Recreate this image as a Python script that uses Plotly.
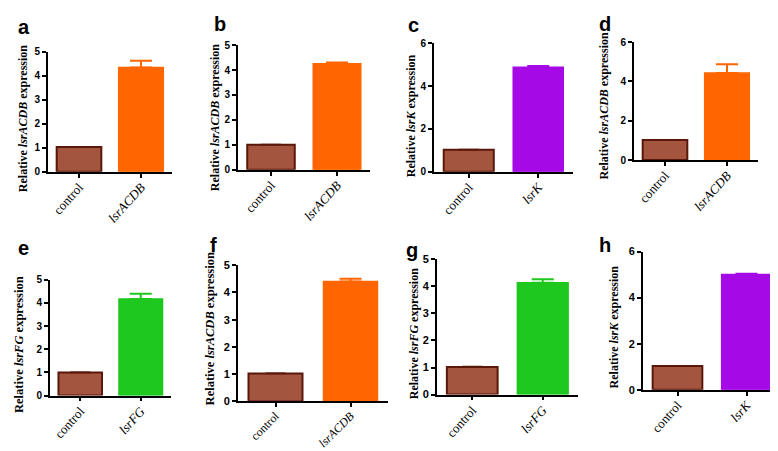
import plotly.graph_objects as go

W, H = 778, 451

# ---- data ----
panel_letters = ["a", "b", "c", "d", "e", "f", "g", "h"]
genes = ["lsrACDB", "lsrACDB", "lsrK", "lsrACDB", "lsrFG", "lsrACDB", "lsrFG", "lsrK"]
control_values = [1.03, 1.00, 1.03, 1.02, 1.00, 1.02, 1.02, 1.03]
control_errors = [0.01, 0.01, 0.01, 0.01, 0.01, 0.01, 0.02, 0.01]
gene_values = [4.35, 4.25, 4.88, 4.43, 4.17, 4.40, 4.13, 5.00]
gene_errors = [0.28, 0.05, 0.05, 0.45, 0.23, 0.10, 0.13, 0.03]
y_max = [5, 5, 6, 6, 5, 5, 5, 6]
y_step = [1, 1, 2, 2, 1, 1, 1, 2]

# ---- style / layout ----
SERIF = "Times New Roman, Liberation Serif, DejaVu Serif, serif"
SANS = "Arial, Liberation Sans, DejaVu Sans, sans-serif"
gene_colors = {"lsrACDB": "#FF6600", "lsrK": "#A50AE6", "lsrFG": "#1EC81E"}
control_fill = "#A3553F"
control_line = "#5A180A"

# pixel boxes: x_left, x_right, y_top, y_bottom
boxes = [
    (40, 164, 39, 162),
    (230, 362, 32, 160),
    (426, 565, 30, 162),
    (626, 750, 29, 150),
    (42, 163, 273, 392),
    (230, 380, 258, 398),
    (429, 570, 252, 391),
    (635, 773, 244, 386),
]
title_pos = [(15, 108), (207, 107), (403, 104), (596, 95),
             (11, 340), (202, 324), (406, 329), (606, 322)]
title_size = [12, 12, 12, 12, 12.5, 12.5, 12, 12]
letter_pos = [(16, 13), (212, 10), (405, 11), (597, 10),
              (15, 240), (205, 237), (404, 242), (597, 237)]
tick_size = [10, 10, 10, 10, 10, 11, 11, 11]
cat_size = [13, 13, 13, 13, 13, 12, 13, 13]
cat_angle = [-48, -48, -48, -48, -48, -45, -48, -48]

fig = go.Figure()
layout = dict(
    width=W, height=H, margin=dict(l=0, r=0, t=0, b=0),
    paper_bgcolor="white", plot_bgcolor="white",
    showlegend=False, barmode="overlay",
)
annotations = []

for i, letter in enumerate(panel_letters):
    n = "" if i == 0 else str(i + 1)
    xa, ya = "x" + n, "y" + n
    gene = genes[i]
    cats = ["control", gene]
    col = gene_colors[gene]
    fig.add_trace(go.Bar(
        x=[cats[0]], y=[control_values[i]], xaxis=xa, yaxis=ya, width=0.72,
        marker=dict(color=control_fill, line=dict(color=control_line, width=2)),
        error_y=dict(type="data", array=[control_errors[i]], arrayminus=[0],
                     symmetric=False, color=control_line, thickness=1.5, width=10),
    ))
    fig.add_trace(go.Bar(
        x=[cats[1]], y=[gene_values[i]], xaxis=xa, yaxis=ya, width=0.72,
        marker=dict(color=col, line=dict(color=col, width=1.5)),
        error_y=dict(type="data", array=[gene_errors[i]], arrayminus=[0],
                     symmetric=False, color=col, thickness=2, width=11),
    ))
    x0, x1, yt, yb = boxes[i]
    yticks = list(range(0, y_max[i] + 1, y_step[i]))
    layout["xaxis" + n] = dict(
        domain=[x0 / W, x1 / W], anchor=ya, type="category",
        categoryorder="array", categoryarray=cats, range=[-0.5, 1.5],
        tickmode="array", tickvals=cats,
        ticktext=["control", "<i>" + gene + "</i>"],
        tickangle=cat_angle[i], ticks="outside", ticklen=4, tickwidth=1.5,
        tickcolor="black", ticklabelstandoff=-3,
        tickfont=dict(family=SERIF, size=cat_size[i], color="black"),
        showline=True, linecolor="black", linewidth=1.8, showgrid=False,
        zeroline=False, fixedrange=True,
    )
    layout["yaxis" + n] = dict(
        domain=[1 - yb / H, 1 - yt / H], anchor=xa, range=[0, y_max[i]],
        tickmode="array", tickvals=yticks,
        ticktext=["<b>%d</b>" % v for v in yticks],
        ticks="outside", ticklen=4, tickwidth=1.5, tickcolor="black",
        tickfont=dict(family=SANS, size=tick_size[i], color="black"),
        showline=True, linecolor="black", linewidth=1.8, showgrid=False,
        zeroline=False, fixedrange=True,
    )
    tx, ty = title_pos[i]
    annotations.append(dict(
        x=tx / W, y=1 - ty / H, xref="paper", yref="paper",
        text="<b>Relative <i>" + gene + "</i> expression</b>", textangle=-90,
        showarrow=False, xanchor="center", yanchor="middle",
        font=dict(family=SERIF, size=title_size[i], color="black"),
    ))
    lx, ly = letter_pos[i]
    annotations.append(dict(
        x=lx / W, y=1 - ly / H, xref="paper", yref="paper",
        text="<b>" + letter + "</b>", showarrow=False,
        xanchor="center", yanchor="middle",
        font=dict(family=SANS, size=20, color="black"),
    ))

layout["annotations"] = annotations
fig.update_layout(**layout)
fig.write_html("out.html")
